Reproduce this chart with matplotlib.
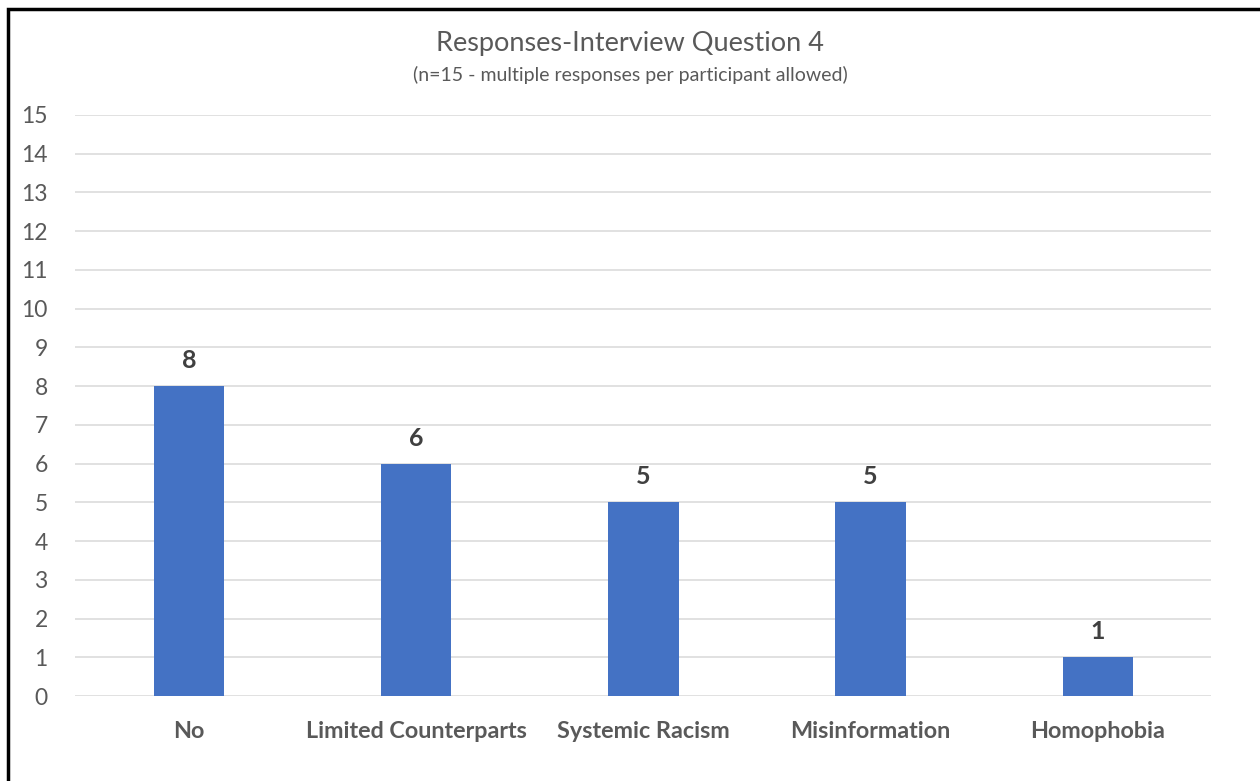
import matplotlib.pyplot as plt
from matplotlib.patches import Rectangle

categories = ['No', 'Limited Counterparts', 'Systemic Racism', 'Misinformation', 'Homophobia']
counts = [8, 6, 5, 5, 1]
y_ticks = list(range(0, 16))

plt.rcParams['font.family'] = ['Lato', 'DejaVu Sans']

fig = plt.figure(figsize=(12.6, 7.81), dpi=100)
ax = fig.add_axes([0.0599, 0.1088, 0.9016, 0.744])

bars = ax.bar(categories, counts, width=0.31, color='#4472C4', zorder=3)
ax.set_xlim(-0.5, len(categories) - 0.5)
ax.set_ylim(0, 15)
ax.set_yticks(y_ticks)

# value labels above each bar
for b, v in zip(bars, counts):
    ax.annotate(str(v), (b.get_x() + b.get_width() / 2, v), xytext=(0, 10),
                textcoords='offset points', ha='center', va='bottom',
                fontsize=18, fontweight='bold', color='#404040')

ax.grid(axis='y', color='#D9D9D9', linewidth=1.1, zorder=0)
for s in ax.spines.values():
    s.set_visible(False)
ax.tick_params(axis='both', length=0, colors='#595959')
ax.tick_params(axis='y', labelsize=16.5, pad=20)
ax.tick_params(axis='x', labelsize=16.8, pad=18)
for lbl in ax.get_xticklabels():
    lbl.set_fontweight('bold')

fig.text(0.5, 0.944, 'Responses-Interview Question 4', ha='center', va='center',
         fontsize=19.5, color='#595959')
fig.text(0.5, 0.904, '(n=15 - multiple responses per participant allowed)', ha='center',
         va='center', fontsize=14, color='#595959')

# outer frame, clipped on the right and bottom
fig.patches.append(Rectangle((0.0063, -0.05), 1.1, 1.039, transform=fig.transFigure,
                             fill=False, edgecolor='black', linewidth=2.5))

fig.savefig('out.png', dpi=100)
